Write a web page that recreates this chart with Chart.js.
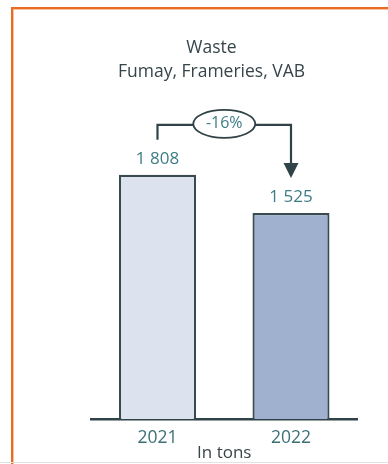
<!DOCTYPE html>
<html>
<head>
<meta charset="utf-8">
<script src="https://cdn.jsdelivr.net/npm/chart.js@4.4.1/dist/chart.umd.min.js"></script>
<style>
  html, body { margin: 0; padding: 0; background: #ffffff; }
  #wrap { position: relative; width: 388px; height: 464px; overflow: hidden; background: #ffffff; }
  #frame {
    position: absolute; left: 11px; top: 7px; right: -4px; bottom: -4px;
    border-left: 2px solid #e96c22; border-top: 2px solid #e96c22;
    box-shadow: inset 1px 1px 0 #f5c3a0;
    pointer-events: none;
  }
  #foot { position: absolute; left: 0; right: 0; top: 462px; height: 1px; background: #e2e2e2; }
  #chart { position: absolute; left: 0; top: 0; width: 388px; height: 464px; }
</style>
</head>
<body>
<div id="wrap">
  <canvas id="chart" width="388" height="464"></canvas>
  <div id="frame"></div>
  <div id="foot"></div>
</div>
<script>
// Waste volumes per year (tons)
const years = ['2021', '2022'];
const wasteTons = [1808, 1525];
const barColors = ['#dce3ee', '#9fb1ce'];
const titleLines = ['Waste', 'Fumay, Frameries, VAB'];
const unitLabel = 'In tons';

const FONT = '"Open Sans", Lato, sans-serif';
const INK = '#2f4348';
const TEAL = '#3e7d86';

function fmt(v) {
  return String(v).replace(/\B(?=(\d{3})+(?!\d))/g, ' ');
}

// Value labels above the bars and the change bracket between them
const changeBracket = {
  id: 'changeBracket',
  afterDatasetsDraw(chart) {
    const ctx = chart.ctx;
    const bars = chart.getDatasetMeta(0).data;
    const a = bars[0], b = bars[1];

    ctx.save();
    ctx.font = '17px ' + FONT;
    ctx.fillStyle = TEAL;
    ctx.textAlign = 'center';
    ctx.textBaseline = 'middle';
    bars.forEach((bar, i) => ctx.fillText(fmt(wasteTons[i]), bar.x, bar.y - 16));

    const lineY = a.y - 50;
    const startY = a.y - 35;
    const tipY = b.y - 35;
    ctx.strokeStyle = INK;
    ctx.lineWidth = 2.2;
    ctx.beginPath();
    ctx.moveTo(a.x, startY);
    ctx.lineTo(a.x, lineY);
    ctx.lineTo(b.x, lineY);
    ctx.lineTo(b.x, tipY - 14);
    ctx.stroke();

    ctx.fillStyle = INK;
    ctx.beginPath();
    ctx.moveTo(b.x - 7.5, tipY - 15);
    ctx.lineTo(b.x + 7.5, tipY - 15);
    ctx.lineTo(b.x, tipY);
    ctx.closePath();
    ctx.fill();

    const cx = (a.x + b.x) / 2;
    ctx.fillStyle = '#ffffff';
    ctx.lineWidth = 1.8;
    ctx.beginPath();
    ctx.ellipse(cx, lineY - 1, 31, 14, 0, 0, Math.PI * 2);
    ctx.fill();
    ctx.stroke();

    const pct = Math.round((wasteTons[1] - wasteTons[0]) / wasteTons[0] * 100);
    ctx.fillStyle = TEAL;
    ctx.font = '16px ' + FONT;
    ctx.fillText(pct + '%', cx, lineY - 1);
    ctx.restore();
  }
};

new Chart(document.getElementById('chart'), {
  type: 'bar',
  data: {
    labels: years,
    datasets: [{
      data: wasteTons,
      backgroundColor: barColors,
      borderColor: '#3a4b50',
      borderWidth: 2.2,
      borderSkipped: 'bottom',
      categoryPercentage: 1,
      barPercentage: 0.577
    }]
  },
  options: {
    responsive: false,
    animation: false,
    devicePixelRatio: 1,
    layout: { padding: { top: 36, left: 65.25, right: 30.25, bottom: 0 } },
    plugins: {
      legend: { display: false },
      tooltip: { enabled: false },
      title: {
        display: true,
        text: titleLines,
        color: '#37454a',
        font: { family: FONT, size: 17.5, weight: 'normal', lineHeight: 1.37 },
        padding: { top: 0, bottom: 65 }
      }
    },
    scales: {
      x: {
        grid: { display: false, drawTicks: false },
        border: { display: true, color: INK, width: 2.4 },
        ticks: { color: '#3d6f77', font: { family: FONT, size: 17.5 }, padding: 9 },
        title: {
          display: true, text: unitLabel, color: '#3a464a',
          font: { family: FONT, size: 17 }, padding: { top: 0, bottom: 0.8 }
        },
        afterFit(s) { s.height = 45; }
      },
      y: {
        min: 0, max: 2000,
        grid: { display: false, drawTicks: false },
        border: { display: false },
        ticks: { display: false },
        afterFit(s) { s.width = 25.5; }
      }
    }
  },
  plugins: [changeBracket]
});
</script>
</body>
</html>
